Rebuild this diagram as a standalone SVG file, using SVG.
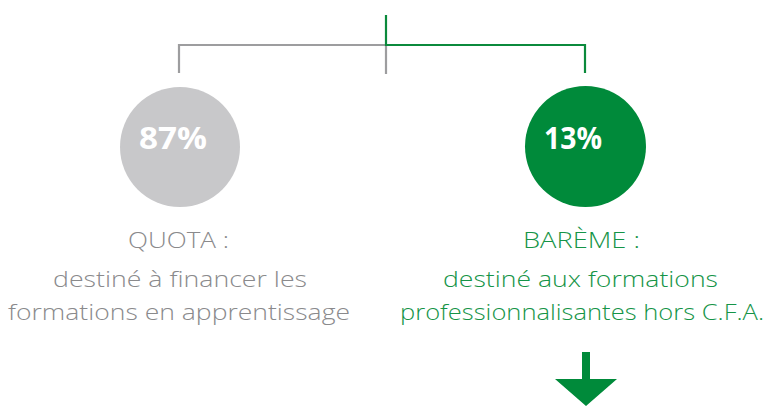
<svg xmlns="http://www.w3.org/2000/svg" width="766" height="406" viewBox="0 0 766 406">
<style>
.gray{stroke:#9d9d9f;stroke-width:2.2;fill:none}
.green{stroke:#0b8a3c;stroke-width:2.2;fill:none}
.pct{font-family:"Open Sans","Liberation Sans",sans-serif;font-weight:700;font-size:30px;fill:#ffffff}
.lbl{font-family:"Open Sans","Liberation Sans",sans-serif;font-weight:300;font-size:22px;text-anchor:middle}
.lg{fill:#8a8a8c}
.lgr{fill:#159447}
</style>
<rect width="766" height="406" fill="#ffffff"/>
<g id="connectors">
<polyline class="gray" points="179,73 179,45 386,45 386,74"/>
<polyline class="green" points="386,15 386,45 585,45 585,73"/>
</g>
<g id="quota">
<circle cx="180" cy="147" r="60" fill="#c8c8ca"/>
<text class="pct" x="139" y="149" textLength="68" lengthAdjust="spacingAndGlyphs">87%</text>
<text class="lbl lg" x="178.5" y="248" textLength="101" lengthAdjust="spacingAndGlyphs">QUOTA :</text>
<text class="lbl lg" x="180" y="287" textLength="254" lengthAdjust="spacingAndGlyphs">destiné à financer les</text>
<text class="lbl lg" x="179" y="320" textLength="342" lengthAdjust="spacingAndGlyphs">formations en apprentissage</text>
</g>
<g id="bareme">
<circle cx="585.5" cy="146.5" r="60.5" fill="#008a3a"/>
<text class="pct" x="544" y="149" textLength="58" lengthAdjust="spacingAndGlyphs">13%</text>
<text class="lbl lgr" x="581.5" y="248" textLength="117" lengthAdjust="spacingAndGlyphs">BARÈME :</text>
<text class="lbl lgr" x="580.5" y="287" textLength="275" lengthAdjust="spacingAndGlyphs">destiné aux formations</text>
<text class="lbl lgr" x="582" y="320" textLength="364" lengthAdjust="spacingAndGlyphs">professionnalisantes hors C.F.A.</text>
</g>
<g id="arrow">
<polygon points="582,352 590,352 590,379 617,379 586,406 555,379 582,379" fill="#008a3a"/>
</g>
</svg>
